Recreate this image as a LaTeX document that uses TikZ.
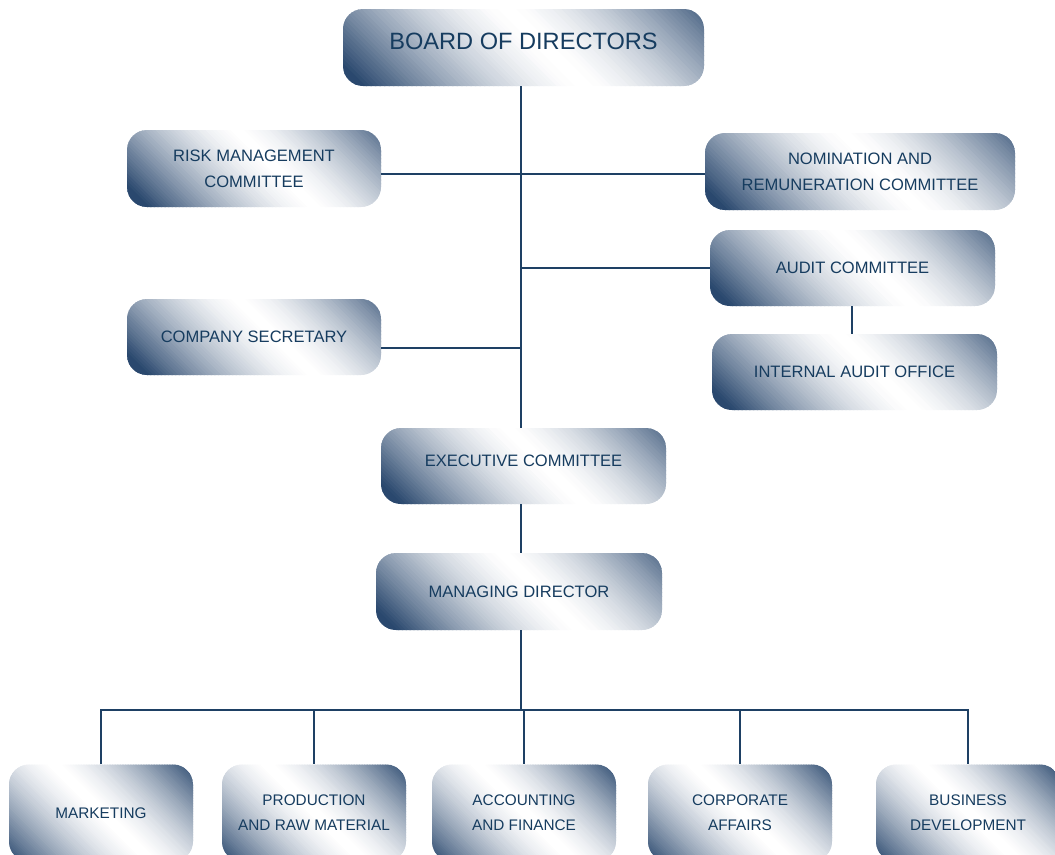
\documentclass[tikz,border=0pt]{standalone}
\usepackage{fontspec}
\setmainfont{Liberation Sans}
\usepackage{tikz}
\usetikzlibrary{calc}

\definecolor{boxdark}{RGB}{42,72,110}
\definecolor{textnavy}{RGB}{22,60,95}
\definecolor{linenavy}{RGB}{30,64,100}
\def\px{0.75pt}

\begin{document}
\begin{tikzpicture}
[x=0.75pt,y=-0.75pt,
  boxdecorate/.style={shape=rectangle,rounded corners=20*\px,draw=none,
    text=textnavy,align=center,inner sep=0pt},
  topbox/.style={boxdecorate,font=\fontsize{17.7}{21}\selectfont},
  midbox/.style={boxdecorate,font=\fontsize{12.4}{19.5}\selectfont},
  lowbox/.style={boxdecorate,font=\fontsize{11.5}{18.8}\selectfont},
  linedecorate/.style={-,draw=linenavy,line width=1pt}]
\useasboundingbox (0,0) rectangle (1055,854);
\clip (0,0) rectangle (1055,854);
%% boxes, with a diagonal gloss laid in strips
\foreach \nodename/\x/\y/\w/\h/\kind/\label in {
  board/523.5/47.5/361/77/topbox/{\raisebox{9pt}{BOARD OF DIRECTORS}},
  risk/254/168.5/254/77/midbox/{RISK MANAGEMENT\\COMMITTEE},
  nom/860/171.5/310/77/midbox/{NOMINATION AND\\REMUNERATION COMMITTEE},
  audit/852.5/268/285/76/midbox/{AUDIT COMMITTEE},
  internal/854.5/372/285/76/midbox/{INTERNAL AUDIT OFFICE},
  secretary/254/337/254/76/midbox/{COMPANY SECRETARY},
  exec/523.5/466/285/76/midbox/{\raisebox{8pt}{EXECUTIVE COMMITTEE}},
  md/519/591.5/286/77/midbox/{MANAGING DIRECTOR},
  mkt/101/813/184/97/lowbox/{MARKETING},
  prod/314/813/184/97/lowbox/{PRODUCTION\\AND RAW MATERIAL},
  acc/524/813/184/97/lowbox/{ACCOUNTING\\AND FINANCE},
  corp/740/813/184/97/lowbox/{CORPORATE\\AFFAIRS},
  busdev/968/813/184/97/lowbox/{BUSINESS\\DEVELOPMENT}}
{
  \pgfmathsetmacro{\glossoff}{\h>90 ? 2 : 22}
  \pgfmathsetmacro{\glossreach}{(\w+\h)/2.83}
  \pgfmathsetmacro{\glossext}{\glossreach+\glossoff}
  \pgfmathsetmacro{\glossstep}{2*\glossext/110}
  \begin{scope}
    \clip[rounded corners=20*\px] (\x-\w/2,\y-\h/2) rectangle (\x+\w/2,\y+\h/2);
    \begin{scope}[shift={(\x+\glossoff,\y)},rotate=45]
      \foreach \i in {0,...,109}
      {
        \pgfmathsetmacro{\sa}{-\glossext+\glossstep*\i}
        \pgfmathsetmacro{\sb}{\sa+\glossstep+0.8}
        \pgfmathtruncatemacro{\mix}{100*min(1,abs(\sa+\glossstep/2)/\glossreach)^1.5}
        \fill[boxdark!\mix!white] (\sa,-\glossext) rectangle (\sb,\glossext);
      }
    \end{scope}
  \end{scope}
  \node (\nodename) at (\x,\y) [\kind,minimum width=\w*\px,minimum height=\h*\px] {\label};
}
%% joints
\coordinate (trunk) at (521,174);
\coordinate (sectie) at (521,348);
\coordinate (rail) at (521,710);
%% edges or lines
\draw[linedecorate] (board.south -| trunk) -- (exec.north -| trunk);
\draw[linedecorate] (risk.east |- trunk) -- (nom.west |- trunk);
\draw[linedecorate] (audit.west -| trunk) -- (audit.west);
\draw[linedecorate] (secretary.east |- sectie) -- (sectie);
\draw[linedecorate] ($(audit.south)+(-0.5,0)$) -- ($(audit.south |- internal.north)+(-0.5,0)$);
\draw[linedecorate] (exec.south -| trunk) -- (md.north -| trunk);
\draw[linedecorate] (md.south -| rail) -- (rail);
\draw[linedecorate] (mkt.north) |- (rail) -| (busdev.north);
\foreach \endnode in {prod, acc, corp}
{
  \draw[linedecorate] (\endnode.north |- rail) -- (\endnode.north);
}
\end{tikzpicture}
\end{document}
